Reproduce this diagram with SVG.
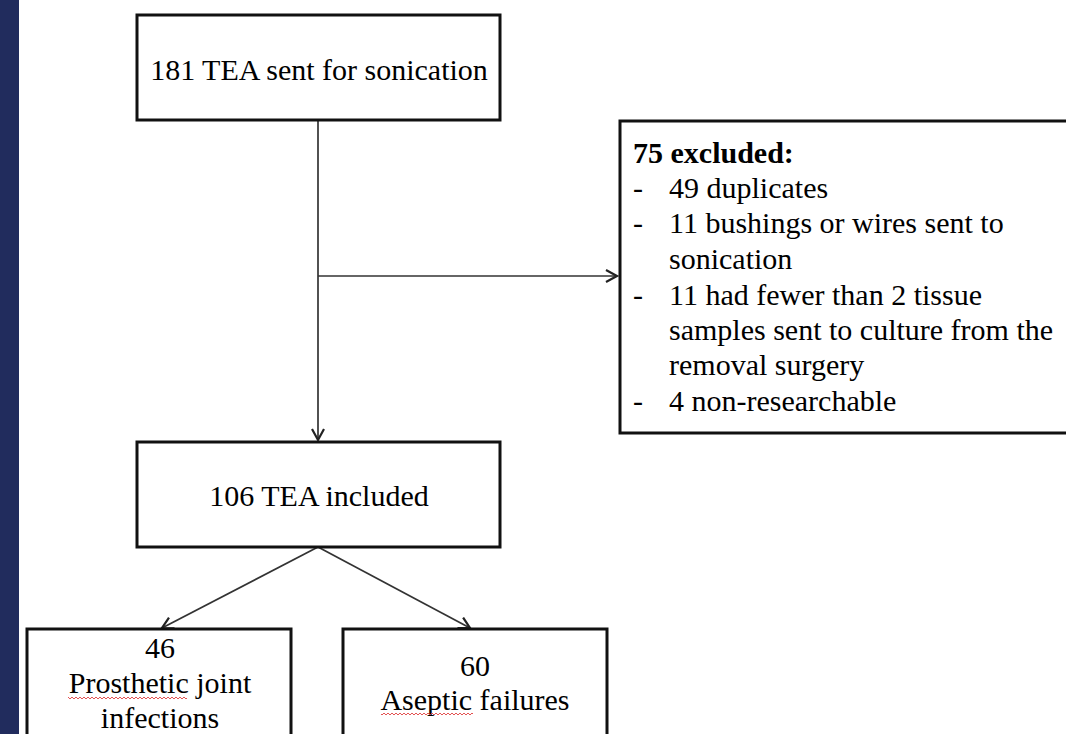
<svg xmlns="http://www.w3.org/2000/svg" width="1066" height="734" viewBox="0 0 1066 734">
<style>
.box{fill:#fff;stroke:#111;stroke-width:3}
.t{font-family:'Liberation Serif','Times New Roman',Times,serif;font-size:30px;fill:#000}
.c{text-anchor:middle}
.b{font-weight:bold}
.con{fill:none;stroke:#333;stroke-width:1.7}
</style>
<defs>
<marker id="arr" markerUnits="userSpaceOnUse" markerWidth="16" markerHeight="16" refX="12" refY="7" orient="auto">
<path d="M1,1 L12,7 L1,13" fill="none" stroke="#222" stroke-width="2.2"/>
</marker>
<pattern id="wave" patternUnits="userSpaceOnUse" width="4" height="4">
<path d="M0,1 L2,3 L4,1" fill="none" stroke="#e04040" stroke-width="0.9"/>
</pattern>
</defs>
<rect width="1066" height="734" fill="#fff"/>
<rect x="0" y="0" width="19" height="734" fill="#212c5d"/>
<g id="connectors">
<line class="con" x1="318" y1="121" x2="318" y2="440" marker-end="url(#arr)"/>
<line class="con" x1="318" y1="276" x2="617" y2="276" marker-end="url(#arr)"/>
<line class="con" x1="318" y1="547" x2="162" y2="628" marker-end="url(#arr)"/>
<line class="con" x1="318" y1="547" x2="470" y2="628" marker-end="url(#arr)"/>
</g>
<g id="n1">
<rect class="box" x="137" y="15" width="363" height="105"/>
<text class="t c" x="319" y="80">181 TEA sent for sonication</text>
</g>
<g id="n2">
<rect class="box" x="620" y="121" width="470" height="312"/>
<text class="t b" x="633" y="163">75 excluded:</text>
<text class="t" x="633" y="198">-</text><text class="t" x="669" y="198">49 duplicates</text>
<text class="t" x="633" y="233">-</text><text class="t" x="669" y="233">11 bushings or wires sent to</text>
<text class="t" x="669" y="269">sonication</text>
<text class="t" x="633" y="305">-</text><text class="t" x="669" y="305">11 had fewer than 2 tissue</text>
<text class="t" x="669" y="340">samples sent to culture from the</text>
<text class="t" x="669" y="375">removal surgery</text>
<text class="t" x="633" y="411">-</text><text class="t" x="669" y="411">4 non-researchable</text>
</g>
<g id="n3">
<rect class="box" x="137" y="442" width="363" height="105"/>
<text class="t c" x="319" y="506">106 TEA included</text>
</g>
<g id="n4">
<rect class="box" x="27" y="629" width="264" height="120"/>
<text class="t c" x="160" y="658">46</text>
<text class="t c" x="160" y="693">Prosthetic joint</text>
<text class="t c" x="160" y="728">infections</text>
<rect x="68" y="697" width="119" height="4" fill="url(#wave)"/>
</g>
<g id="n5">
<rect class="box" x="343" y="629" width="264" height="120"/>
<text class="t c" x="475" y="676">60</text>
<text class="t c" x="475" y="710">Aseptic failures</text>
<rect x="381" y="713" width="92" height="4" fill="url(#wave)"/>
</g>
</svg>
